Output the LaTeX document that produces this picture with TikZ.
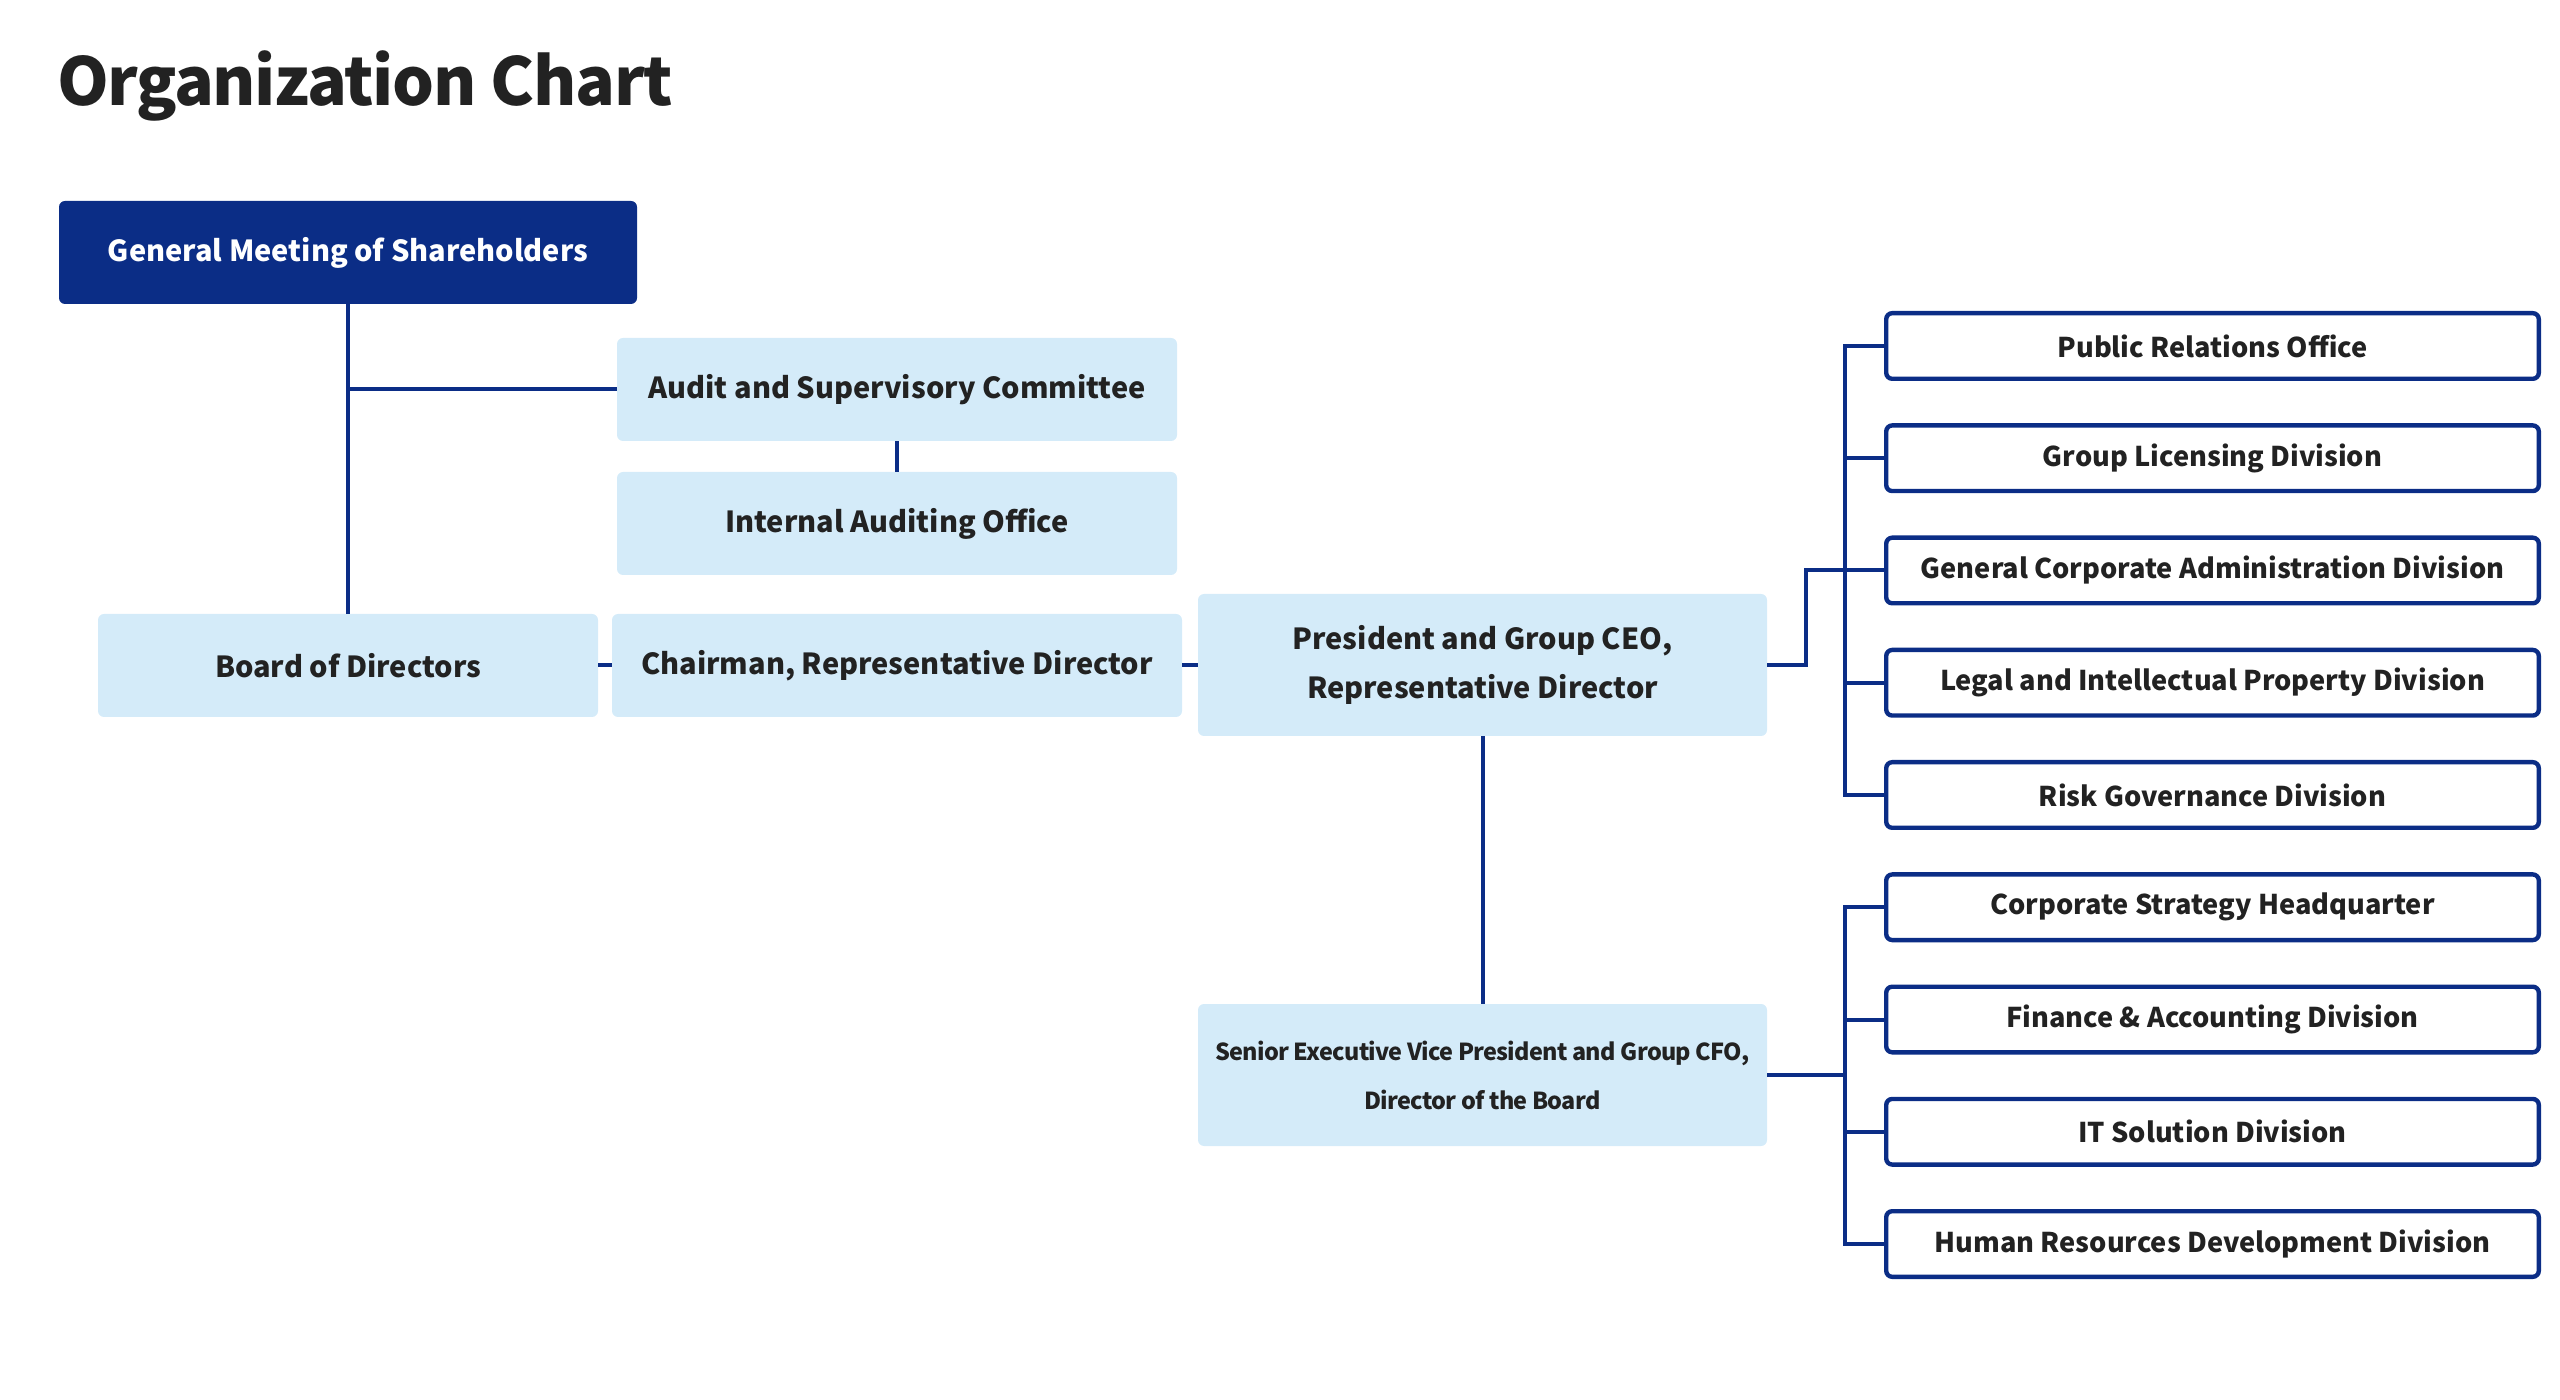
\documentclass[tikz,border=0pt]{standalone}
\usepackage{fontspec}
\setmainfont{Noto Sans CJK KR}
\usepackage{xcolor}
\definecolor{navy}{HTML}{0B2D86}
\definecolor{paleblue}{HTML}{D4EBF9}
\definecolor{ink}{HTML}{222222}

\begin{document}
\begin{tikzpicture}[x=0.5pt,y=-0.5pt,
    office/.style={fill=paleblue, rounded corners=3pt, text=ink, inner sep=0pt,
      font=\fontsize{14.5}{24.5}\selectfont\bfseries, align=center, minimum height=51.5pt},
    unit/.style={draw=navy, line width=2.2pt, fill=white, rounded corners=3pt, text=ink, inner sep=0pt,
      font=\fontsize{13.6}{20}\selectfont\bfseries, minimum width=326.3pt, minimum height=32.8pt},
    link/.style={draw=navy, line width=2pt}]
        \useasboundingbox (0,0) rectangle (2560,1400);
        \node[anchor=base west, text=ink, font=\fontsize{33}{40}\selectfont\bfseries\addfontfeatures{LetterSpace=-2}] (title) at (50,106) {Organization Chart};

        % left side
        \node[office, fill=navy, text=white, minimum width=289pt] (gms) at (348,252.5) {General Meeting of Shareholders};
        \node[office, minimum width=280pt] (audit) at (897,389.5) {Audit and Supervisory Committee};
        \node[office, minimum width=280pt] (internal) at (897,523.5) {Internal Auditing Office};
        \node[office, minimum width=250pt] (board) at (348,665.5) {Board of Directors};
        \node[office, minimum width=285pt] (chair) at (897,665.5) {Chairman, Representative Director};
        \node[office, minimum width=284.5pt, minimum height=71pt] (pres) at (1482.5,665) {President and Group CEO,\\Representative Director};
        \node[office, minimum width=284.5pt, minimum height=71pt,
          font=\fontsize{11.7}{24.5}\selectfont\bfseries\addfontfeatures{LetterSpace=-3}] (sevp) at (1482.5,1075)
          {Senior Executive Vice President and Group CFO,\\Director of the Board};

        % right column
        \foreach \nm/\txt [count=\k] in {pr/Public Relations Office, gl/Group Licensing Division,
            gca/General Corporate Administration Division, legal/Legal and Intellectual Property Division,
            risk/Risk Governance Division, csh/Corporate Strategy Headquarter,
            fin/Finance \& Accounting Division, it/IT Solution Division,
            hr/Human Resources Development Division} {
          \node[unit] (\nm) at (2212.5,346+112.25*\k-112.25) {\txt};
        }

        \coordinate (bus) at (1845,0);
        \coordinate (elbow) at (1806,0);

        % connectors
        \draw[link] (gms.south) -- (board.north);
        \draw[link] (gms.south |- audit) -- (audit.west);
        \draw[link] (audit.south) -- (internal.north);
        \draw[link] (board.east) -- (chair.west);
        \draw[link] (chair.east) -- (pres.west |- chair.east);
        \draw[link] (pres.south) -- (sevp.north);
        \draw[link] (pres.east) -- (elbow |- pres) |- (gca.west);
        \draw[link] (pr.west) -| (bus |- risk) -- (risk.west);
        \foreach \nm in {gl,legal} {
          \draw[link] (bus |- \nm) -- (\nm.west);
        }
        \draw[link] (sevp.east) -- (bus |- sevp);
        \draw[link] (csh.west) -| (bus |- hr) -- (hr.west);
        \foreach \nm in {fin,it} {
          \draw[link] (bus |- \nm) -- (\nm.west);
        }
      \end{tikzpicture}
\end{document}
